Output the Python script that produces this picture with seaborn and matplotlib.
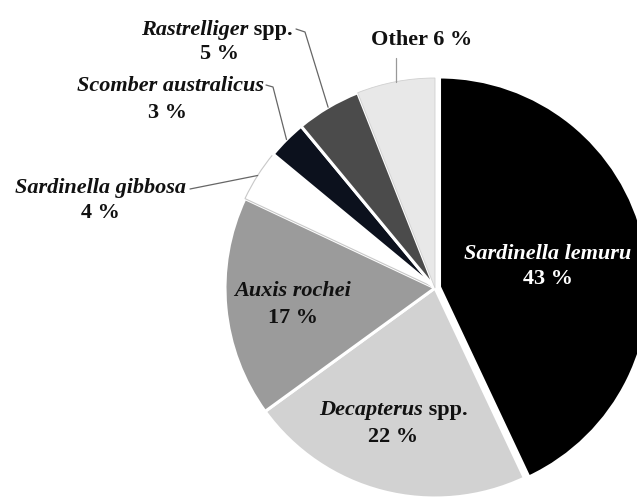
import matplotlib
matplotlib.use("Agg")
import matplotlib.pyplot as plt
import numpy as np
import seaborn as sns

# catch composition (%), clockwise from 12 o'clock
species = ["Sardinella lemuru", "Decapterus", "Auxis rochei", "Sardinella gibbosa",
           "Scomber australicus", "Rastrelliger", "Other"]
suffix = ["", " spp.", "", "", "", " spp.", ""]
share = [43, 22, 17, 4, 3, 5, 6]
colours = ["#000000", "#d2d2d2", "#9b9b9b", "#ffffff", "#0c111d", "#4b4b4b", "#e8e8e8"]

sns.set_style("white")
plt.rcParams["font.family"] = ["Liberation Serif", "DejaVu Serif"]

W, H = 637, 498
CX, CY, R = 435, 288, 210
FS = 16


def px(x, y):
    # pixel (from top-left) -> data units where pie radius = 1
    return (x - CX) / R, (CY - y) / R


fig = plt.figure(figsize=(W / 100, H / 100), dpi=100)
ax = fig.add_axes([0, 0, 1, 1])
explode = [0.022, 0, 0, 0, 0, 0, 0]
wedges, _ = ax.pie(share, colors=colours, startangle=90, counterclock=False, explode=explode,
                   wedgeprops=dict(edgecolor="white", linewidth=2.2))
wedges[3].set_edgecolor("#c8c8c8")
wedges[3].set_linewidth(0.8)
wedges[6].set_edgecolor("#d0d0d0")
wedges[6].set_linewidth(0.6)
ax.set_xlim(px(0, 0)[0], px(W, 0)[0])
ax.set_ylim(px(0, H)[1], px(0, 0)[1])
ax.set_aspect("equal")
ax.axis("off")
renderer = fig.canvas.get_renderer()


def name_label(i, x, y, ha, colour):
    # italic species name + upright suffix, aligned as one string
    t1 = ax.text(x, y, species[i], ha="left", va="center", fontsize=FS, color=colour,
                 fontstyle="italic", fontweight="bold")
    t2 = ax.text(x, y, suffix[i], ha="left", va="center", fontsize=FS, color=colour,
                 fontweight="bold")
    w1 = t1.get_window_extent(renderer).width / R
    w2 = t2.get_window_extent(renderer).width / R if suffix[i] else 0
    total = w1 + w2
    x0 = x - total / 2 if ha == "center" else x - total
    t1.set_x(x0)
    t2.set_x(x0 + w1)


def pct_label(i, x, y, colour):
    ax.text(x, y, f"{share[i]} %", ha="center", va="center", fontsize=FS, color=colour,
            fontweight="bold")


def anchor(i):
    w = wedges[i]
    t = np.deg2rad((w.theta1 + w.theta2) / 2)
    return w.center[0] + w.r * np.cos(t), w.center[1] + w.r * np.sin(t)


# labels inside the pie
inside = {0: (px(548, 254), px(548, 279), "white"),
          1: (px(393, 410), px(393, 437), "#111111"),
          2: (px(293, 291), px(293, 318), "#111111")}
for i, (pn, pp, c) in inside.items():
    name_label(i, *pn, "center", c)
    pct_label(i, *pp, c)

# labels outside with leader lines
outside = {3: (px(186, 188), px(100, 213), [px(190, 189)]),
           4: (px(264, 86), px(167, 113), [px(266, 85), px(273, 87)]),
           5: (px(293, 30), px(220, 54), [px(296, 29), px(305, 32)])}
for i, (pn, pp, pts) in outside.items():
    name_label(i, *pn, "right", "#111111")
    pct_label(i, *pp, "#111111")
    xs = [p[0] for p in pts] + [anchor(i)[0]]
    ys = [p[1] for p in pts] + [anchor(i)[1]]
    ax.plot(xs, ys, color="#666666", lw=0.9)

ax.text(*px(422, 40), f"Other {share[6]} %", ha="center", va="center", fontsize=FS,
        color="#111111", fontweight="bold")
ax.plot([anchor(6)[0], anchor(6)[0]], [px(0, 58)[1], anchor(6)[1]], color="#999999", lw=0.9)

fig.savefig("out.png", dpi=100)
